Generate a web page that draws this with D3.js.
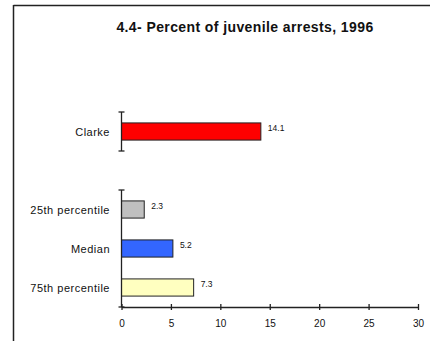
<!DOCTYPE html>
<html>
<head>
<meta charset="utf-8">
<script src="https://cdn.jsdelivr.net/npm/d3@7"></script>
<style>
  html, body { margin: 0; padding: 0; background: #fff; }
  svg { display: block; }
  text { font-family: "Liberation Sans", Arial, sans-serif; fill: #111; }
</style>
</head>
<body>
<svg id="chart" width="430" height="341"></svg>
<script>
// Rows from top to bottom; the empty slot keeps a gap between Clarke and the benchmarks
const categories = ["Clarke", "", "25th percentile", "Median", "75th percentile"];
const values = [14.1, null, 2.3, 5.2, 7.3];
const valueLabels = ["14.1", "", "2.3", "5.2", "7.3"];
const barColors = ["#ff0000", null, "#c0c0c0", "#3366ff", "#ffffc0"];
const xTicks = [0, 5, 10, 15, 20, 25, 30];
const title = "4.4- Percent of juvenile arrests, 1996";

const svg = d3.select("#chart");

// Frame lines on the top and left edges
svg.append("line").attr("x1", 13.5).attr("x2", 430).attr("y1", 5.5).attr("y2", 5.5)
  .attr("stroke", "#222").attr("stroke-width", 1.5);
svg.append("line").attr("x1", 13.5).attr("x2", 13.5).attr("y1", 5).attr("y2", 341)
  .attr("stroke", "#222").attr("stroke-width", 1.5);

svg.append("text")
  .attr("x", 245).attr("y", 32)
  .attr("text-anchor", "middle")
  .style("font-size", "14px")
  .style("font-weight", "bold")
  .style("letter-spacing", "0.4px")
  .text(title);

const x = d3.scaleLinear().domain([0, 30]).range([121.5, 418]);
const y = d3.scaleBand().domain(d3.range(categories.length)).range([112, 307]).paddingInner(0.56).paddingOuter(0.28);
const step = y.step();

const rows = categories.map((c, i) => ({ c, v: values[i], lab: valueLabels[i], col: barColors[i], i }))
  .filter(d => d.v !== null);

// Bars
svg.append("g").selectAll("rect").data(rows).join("rect")
  .attr("x", x(0))
  .attr("y", d => y(d.i))
  .attr("width", d => x(d.v) - x(0))
  .attr("height", y.bandwidth())
  .attr("fill", d => d.col)
  .attr("stroke", "#222")
  .attr("stroke-width", 1);

// Value labels
svg.append("g").selectAll("text").data(rows).join("text")
  .attr("x", d => x(d.v) + 7)
  .attr("y", d => y(d.i) + y.bandwidth() / 2 - 1)
  .style("font-size", "8.5px")
  .text(d => d.lab);

// Category labels
svg.append("g").selectAll("text").data(rows).join("text")
  .attr("x", 110)
  .attr("y", d => y(d.i) + y.bandwidth() / 2 + 4)
  .attr("text-anchor", "end")
  .style("font-size", "11px")
  .style("letter-spacing", "0.5px")
  .text(d => d.c);

// Category axis, broken across the empty row
const top0 = y.range()[0];
const segs = [[top0, top0 + step], [top0 + 2 * step, y.range()[1]]];
const yAxisG = svg.append("g");
segs.forEach(([a, b]) => {
  yAxisG.append("line").attr("x1", x(0)).attr("x2", x(0)).attr("y1", a).attr("y2", b)
    .attr("stroke", "#222").attr("stroke-width", 1.3);
  [a, b].forEach(t => yAxisG.append("line")
    .attr("x1", x(0) - 3).attr("x2", x(0) + 3).attr("y1", t).attr("y2", t)
    .attr("stroke", "#222").attr("stroke-width", 1.3));
});

// Value axis
const xAxis = d3.axisBottom(x).tickValues(xTicks).tickSize(3).tickSizeOuter(0).tickFormat(d3.format("d"));
const xg = svg.append("g").attr("transform", `translate(0,${y.range()[1]})`).call(xAxis);
xg.select(".domain").attr("stroke", "#222").attr("stroke-width", 1.3);
xg.selectAll(".tick line").attr("y1", -3).attr("y2", 3).attr("stroke", "#222").attr("stroke-width", 1.3);
xg.selectAll(".tick text").attr("y", 13).style("font-size", "10px")
  .style("font-family", "'Liberation Sans', Arial, sans-serif").attr("fill", "#111");
</script>
</body>
</html>
